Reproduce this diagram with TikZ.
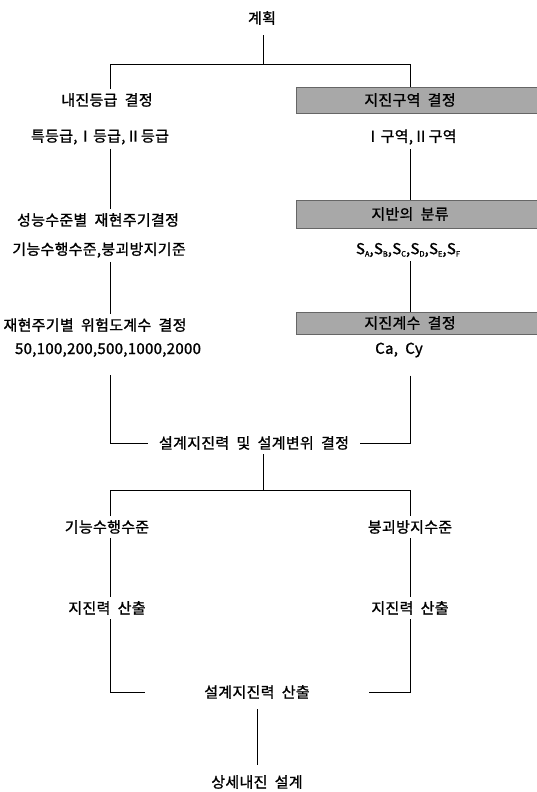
\documentclass[tikz,border=0pt]{standalone}
\usepackage{fontspec}
\setmainfont{Noto Sans CJK KR}[LetterSpace=2,WordSpace=2,FakeBold=1.2]
\newcommand\mysub[1]{\raisebox{-0.3ex}{\fontsize{7.5}{7.5}\selectfont #1}}
\begin{document}
\begin{tikzpicture}[x=1pt,y=-1pt,
  txt/.style={inner xsep=0pt,inner ysep=4pt,font=\fontsize{15}{17}\selectfont},
  graybox/.style={fill=black!34,draw=black!60,line width=0.8pt,minimum height=#1,minimum width=244pt,inner sep=0pt},
  conn/.style={line width=1pt}]
\useasboundingbox (0,0) rectangle (537,792);
\coordinate (colL) at (110,0);
\coordinate (colR) at (410,0);
\coordinate (colC) at (263,0);
\coordinate (top) at (263,65);
\coordinate (mid) at (263,490);

\node[txt] (plan) at (262,18) {계획};
\node[txt] (grade) at (107,100) {내진등급 결정};
\node[txt] (gradeV) at (100,137) {특등급,Ⅰ등급,Ⅱ등급};
\node[graybox=26pt] (zbox) at (418,100) {};
\node[txt] (ztext) at (410,100) {지진구역 결정};
\node[txt] (zoneV) at (411,137) {Ⅰ구역,Ⅱ구역};

\node[txt] (perf) at (98,220) {성능수준별 재현주기결정};
\node[txt] (perfV) at (99,250) {기능수행수준,붕괴방지기준};
\node[graybox=28pt] (sbox) at (418,214) {};
\node[txt] (stext) at (410,214) {지반의 분류};
\node[txt] (sV) at (408,250) {S\mysub{A},S\mysub{B},S\mysub{C},S\mysub{D},S\mysub{E},S\mysub{F}};

\node[txt] (risk) at (95,325) {재현주기별 위험도계수 결정};
\node[txt] (riskV) at (108,350) {50,100,200,500,1000,2000};
\node[graybox=22pt] (cbox) at (418,323) {};
\node[txt] (ctext) at (410,323) {지진계수 결정};
\node[txt] (cV) at (399,350) {Ca, Cy};

\node[txt,inner xsep=11pt] (design) at (254,443) {설계지진력 및 설계변위 결정};
\node[txt] (func) at (107,527) {기능수행수준};
\node[txt] (coll) at (410,527) {붕괴방지수준};
\node[txt] (fL) at (107,608) {지진력 산출};
\node[txt] (fR) at (410,608) {지진력 산출};
\node[txt,inner xsep=59pt] (calc) at (257,692) {설계지진력 산출};
\node[txt] (detail) at (257,782) {상세내진 설계};

\draw[conn,shorten <=6pt] (plan.south -| colC) -- (colC |- top);
\draw[conn] (grade.north -| colL) -- (colL |- top) -- (colR |- top) -- (zbox.north -| colR);
\draw[conn] (gradeV.south -| colL) -- (perf.north -| colL);
\draw[conn] (zoneV.south -| colR) -- (sbox.north -| colR);
\draw[conn] (perfV.south -| colL) -- (risk.north -| colL);
\draw[conn] (sV.south -| colR) -- (cbox.north -| colR);
\draw[conn,shorten <=14pt] (riskV.south -| colL) |- (design.west);
\draw[conn,shorten <=14pt] (cV.south -| colR) |- (design.east);
\draw[conn] (design.south -| colC) -- (colC |- mid);
\draw[conn] (func.north -| colL) -- (colL |- mid) -- (colR |- mid) -- (coll.north -| colR);
\draw[conn] (func.south -| colL) -- (fL.north -| colL);
\draw[conn] (coll.south -| colR) -- (fR.north -| colR);
\draw[conn] (fL.south -| colL) |- (calc.west);
\draw[conn] (fR.south -| colR) |- (calc.east);
\draw[conn,shorten <=6pt,shorten >=6pt] (calc.south) -- (detail.north);
\end{tikzpicture}
\end{document}
